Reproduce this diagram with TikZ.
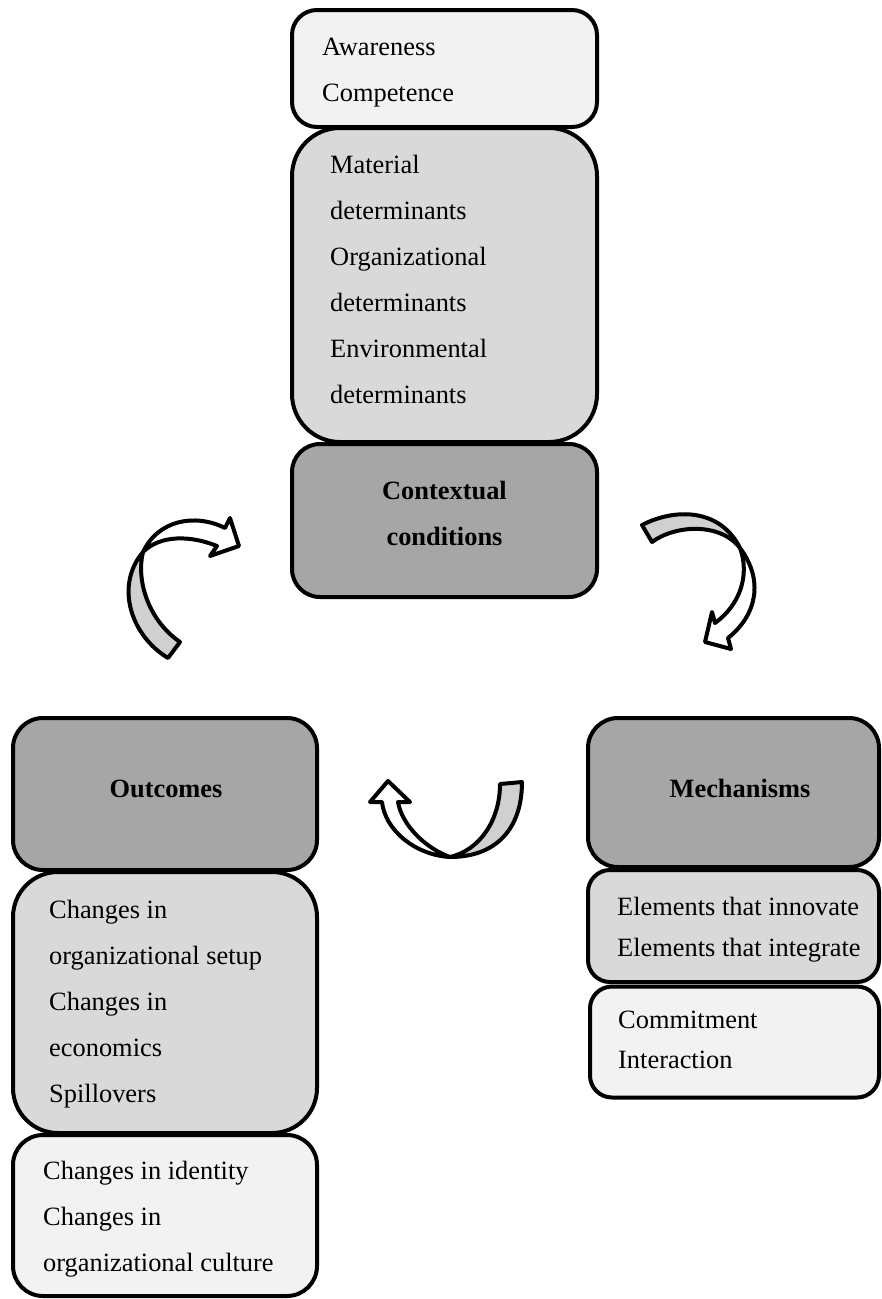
\documentclass[tikz,border=0pt]{standalone}
\usepackage{fontspec}
\setmainfont{Liberation Serif}
\definecolor{cdark}{HTML}{A6A6A6}
\definecolor{cmid}{HTML}{D9D9D9}
\definecolor{clight}{HTML}{F2F2F2}
\definecolor{carrow}{HTML}{D0D0D0}
\begin{document}
\begin{tikzpicture}[x=1pt,y=-1pt,
  panel/.style={draw=black,line width=4pt,rectangle,inner sep=0pt},
  txt/.style={inner sep=0pt,anchor=base west,font=\fontsize{26.4}{30}\selectfont},
  ttl/.style={inner sep=0pt,anchor=base,font=\fontsize{26.4}{30}\selectfont\bfseries},
  arr/.style={draw=black,line width=4pt,line join=round}]
\useasboundingbox (0,0) rectangle (882,1299);
% top stack
\node[panel,fill=clight,rounded corners=25pt,minimum width=305pt,minimum height=117pt] (aw) at (444.5,68.5) {};
\node[panel,fill=cmid,rounded corners=48pt,minimum width=305pt,minimum height=314pt] (det) at (444.5,285) {};
\node[panel,fill=cdark,rounded corners=28pt,minimum width=305pt,minimum height=153pt] (ctx) at (444.5,520.5) {};
\node[txt] (aw1) at (322,55) {Awareness};
\node[txt] (aw2) at (322,101) {Competence};
\node[txt] (d1) at (330,173) {Material};
\node[txt] (d2) at (330,219) {determinants};
\node[txt] (d3) at (330,265) {Organizational};
\node[txt] (d4) at (330,311) {determinants};
\node[txt] (d5) at (330,357) {Environmental};
\node[txt] (d6) at (330,403) {determinants};
\node[ttl] (c1) at (444.5,499) {Contextual};
\node[ttl] (c2) at (444.5,545) {conditions};
% left stack
\node[panel,fill=cdark,rounded corners=30pt,minimum width=304pt,minimum height=152pt] (out) at (165,794) {};
\node[panel,fill=cmid,rounded corners=45pt,minimum width=304pt,minimum height=261pt] (chg) at (165,1002.5) {};
\node[panel,fill=clight,rounded corners=30pt,minimum width=304pt,minimum height=161pt] (idt) at (165,1215.5) {};
\node[ttl] (o1) at (166,797) {Outcomes};
\node[txt] (g1) at (49,918) {Changes in};
\node[txt] (g2) at (49,964) {organizational setup};
\node[txt] (g3) at (49,1010) {Changes in};
\node[txt] (g4) at (49,1056) {economics};
\node[txt] (g5) at (49,1102) {Spillovers};
\node[txt] (i1) at (43,1179) {Changes in identity};
\node[txt] (i2) at (43,1225) {Changes in};
\node[txt] (i3) at (43,1271) {organizational culture};
% right stack
\node[panel,fill=cdark,rounded corners=30pt,minimum width=291pt,minimum height=149pt] (mech) at (733.5,792.5) {};
\node[panel,fill=cmid,rounded corners=22pt,minimum width=291pt,minimum height=112pt] (elem) at (733.5,926) {};
\node[panel,fill=clight,rounded corners=22pt,minimum width=289pt,minimum height=111pt] (comm) at (734.5,1042) {};
\node[ttl] (m1) at (740,797) {Mechanisms};
\node[txt] (e1) at (617,915) {Elements that innovate};
\node[txt] (e2) at (617,956) {Elements that integrate};
\node[txt] (k1) at (618,1028) {Commitment};
\node[txt] (k2) at (618,1068) {Interaction};
% left curved arrow (outcomes -> contextual)
\filldraw[arr,fill=carrow] (168,658) .. controls (130,635) and (115,585) .. (143,552)
  .. controls (136,580) and (148,620) .. (180,642) -- cycle;
\filldraw[arr,fill=white] (143,552) .. controls (158,520) and (195,513) .. (225,528)
  -- (230,518) -- (239,546) -- (210,556) -- (217,546)
  .. controls (190,535) and (160,535) .. (143,552) -- cycle;
% right curved arrow (contextual -> mechanisms)
\filldraw[arr,fill=carrow] (642,525) .. controls (675,508) and (720,508) .. (740,548)
  .. controls (720,522) and (675,525) .. (652,542) -- cycle;
\filldraw[arr,fill=white] (740,548) .. controls (764,580) and (757,615) .. (728,638)
  -- (731,649) -- (705,642) -- (712,612) -- (715,623)
  .. controls (740,605) and (750,575) .. (740,548) -- cycle;
% middle U arrow (mechanisms -> outcomes)
\filldraw[arr,fill=carrow] (522,782) .. controls (522,830) and (495,857) .. (450,857)
  .. controls (480,850) and (500,820) .. (500,784) -- cycle;
\filldraw[arr,fill=white] (450,857) .. controls (415,855) and (385,830) .. (382,802)
  -- (370,802) -- (388,781) -- (410,802) -- (398,802)
  .. controls (402,825) and (425,848) .. (450,857) -- cycle;
\end{tikzpicture}
\end{document}
